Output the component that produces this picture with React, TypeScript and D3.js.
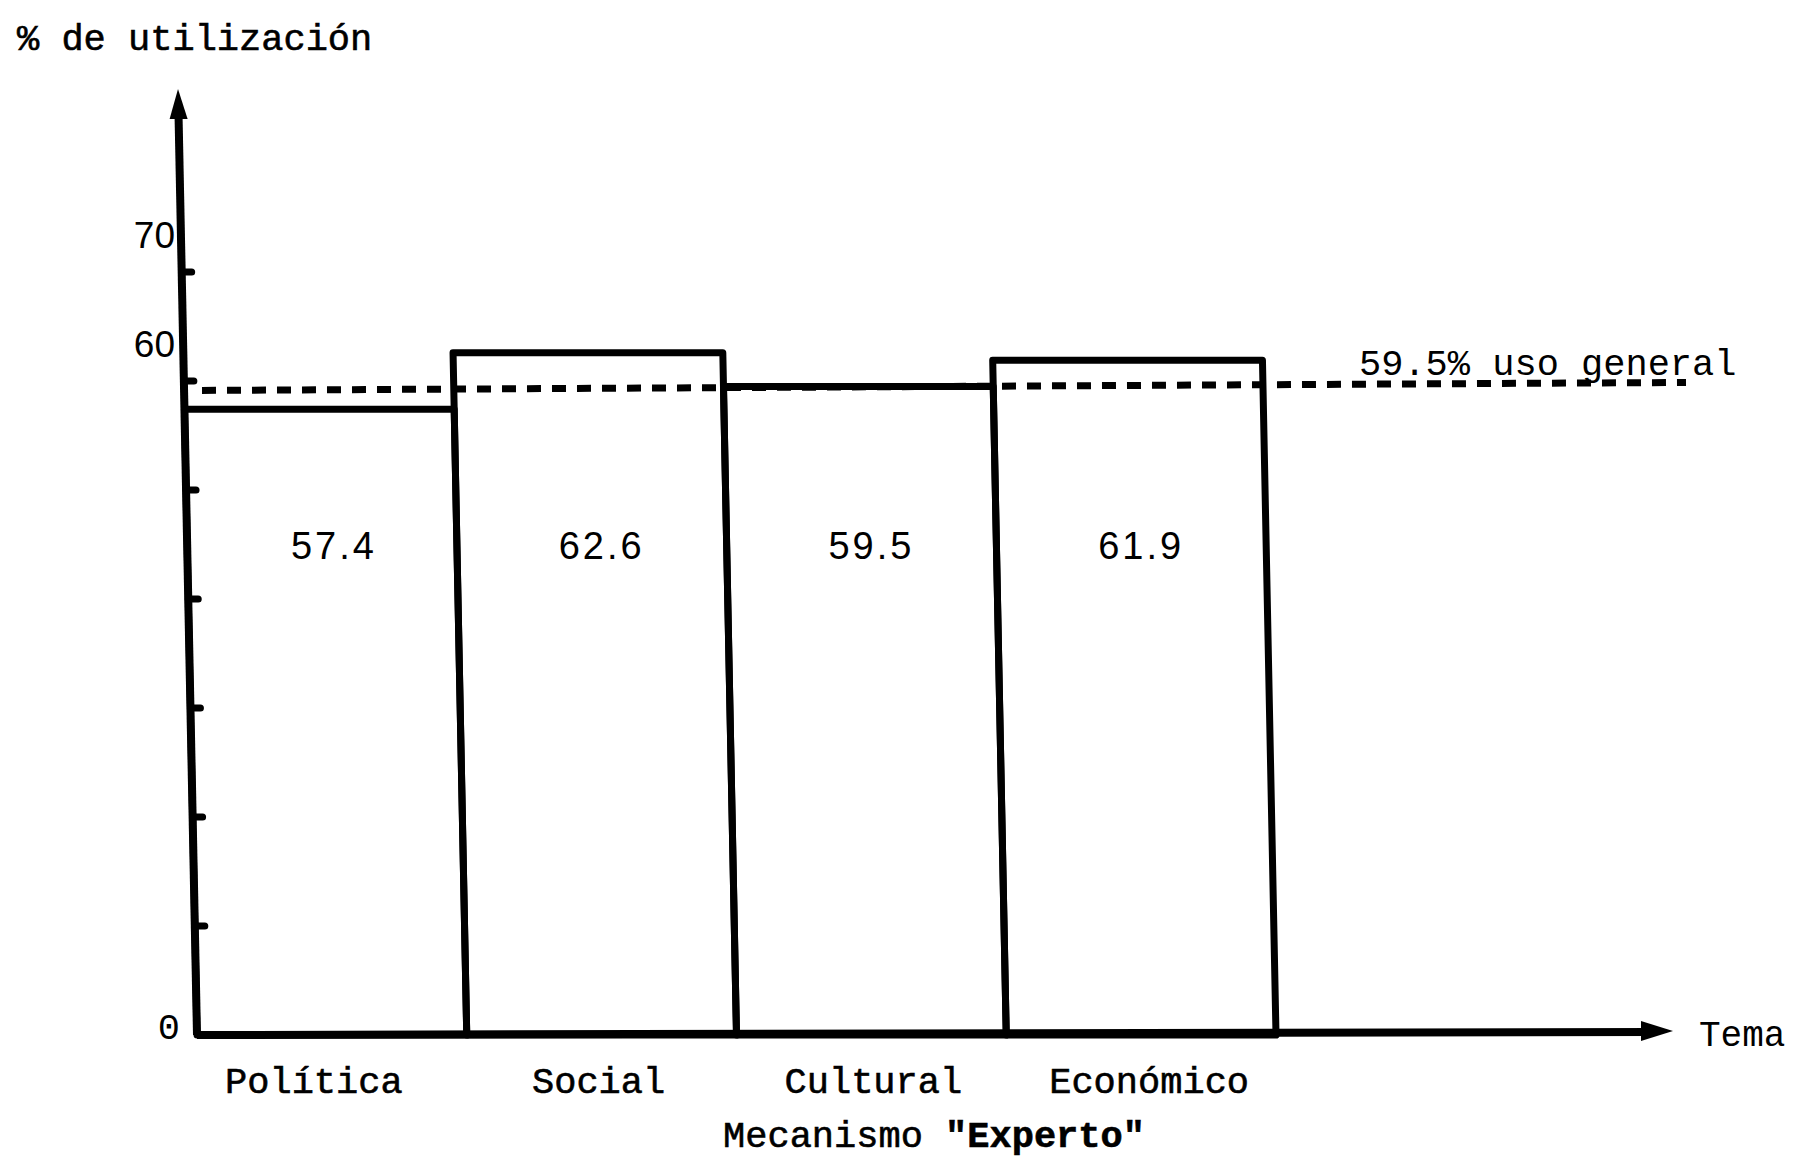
import React from "react";
import * as d3 from "d3";

const categories = ["Política", "Social", "Cultural", "Económico"];
const values = [57.4, 62.6, 59.5, 61.9];
const valueLabels = ["57.4", "62.6", "59.5", "61.9"];
const generalUse = 59.5;
const generalUseLabel = "59.5% uso general";
const minorTicks = [10, 20, 30, 40, 50, 60, 70];
const labeledTicks = [0, 60, 70];
const yTitle = "% de utilización";
const xTitle = "Tema";
const xSubtitleA = "Mecanismo ";
const xSubtitleB = "\"Experto\"";

const W = 1794;
const H = 1160;
const baseY = 1035;
const axisX = 197;
const mono = "'Liberation Mono', 'DejaVu Sans Mono', monospace";
const sans = "'Liberation Sans', Arial, sans-serif";

export default function App() {
  const y = d3.scaleLinear().domain([0, 70]).range([baseY, 272]);
  const x = d3.scaleBand<string>().domain(categories).range([axisX, 1276]).padding(0);
  const skew = `translate(0,${baseY}) skewX(1.15) translate(0,${-baseY})`;
  const xAxisEnd = 1673;
  const yAxisTop = 89;
  const ink = { stroke: "#000", strokeWidth: 0.6 };

  return (
    <svg width={W} height={H} style={{ position: "absolute", left: 0, top: 0, background: "#fff" }}>
      <rect x={0} y={0} width={W} height={H} fill="#fff" />
      {/* title */}
      <text x={17} y={50} fontFamily={mono} fontSize={37} fill="#000" {...ink}>{yTitle}</text>

      <g transform={skew}>
        {/* bars */}
        {categories.map((c, i) => (
          <rect key={c} x={x(c)!} y={y(values[i])} width={x.bandwidth()} height={baseY - y(values[i])}
            fill="none" stroke="#000" strokeWidth={7} strokeLinejoin="round" />
        ))}
        {/* y axis */}
        <line x1={axisX} y1={baseY} x2={axisX} y2={yAxisTop + 20} stroke="#000" strokeWidth={8} />
        <path d={`M${axisX},${yAxisTop} L${axisX - 9},${yAxisTop + 30} L${axisX + 9},${yAxisTop + 30} Z`} fill="#000" />
        {minorTicks.map((t) => (
          <line key={t} x1={axisX} x2={axisX + 10} y1={y(t)} y2={y(t)} stroke="#000" strokeWidth={7} strokeLinecap="round" />
        ))}
      </g>

      {/* x axis */}
      <line x1={axisX} y1={baseY} x2={xAxisEnd - 20} y2={baseY - 3} stroke="#000" strokeWidth={8} />
      <path d={`M${xAxisEnd},${baseY - 4} L${xAxisEnd - 32},${baseY - 14} L${xAxisEnd - 32},${baseY + 6} Z`} fill="#000" />

      {/* general use dashed line */}
      <line x1={axisX + 5} x2={1686} y1={y(generalUse) + 4} y2={y(generalUse) - 4}
        stroke="#000" strokeWidth={7} strokeDasharray="14 11" />
      <text x={1359} y={362} dy="0.35em" fontFamily={mono} fontSize={37} fill="#000">{generalUseLabel}</text>

      {/* value labels */}
      {categories.map((c, i) => (
        <text key={c} x={x(c)! + x.bandwidth() / 2 + (i === 0 ? 2 : 0)} y={546} dy="0.35em" textAnchor="middle"
          fontFamily={sans} fontSize={38} letterSpacing={3} fill="#000">{valueLabels[i]}</text>
      ))}

      {/* y tick labels */}
      {labeledTicks.map((t) => (
        <text key={t} x={t === 0 ? 180 : 175} y={t === 0 ? y(t) - 9 : y(t) - 37} dy="0.35em" textAnchor="end"
          fontFamily={t === 0 ? mono : sans} fontSize={37} fill="#000">{t}</text>
      ))}

      {/* category labels */}
      {categories.map((c, i) => (
        <text key={c} x={x(c)! + x.bandwidth() / 2 + [-18, -3, 2, 8][i]} y={1080} dy="0.35em" textAnchor="middle"
          fontFamily={mono} fontSize={37} fill="#000" {...ink}>{c}</text>
      ))}

      <text x={1699} y={1033} dy="0.35em" fontFamily={mono} fontSize={36} fill="#000">{xTitle}</text>
      <text x={934} y={1134} dy="0.35em" textAnchor="middle" fontFamily={mono} fontSize={37} fill="#000" {...ink}>
        {xSubtitleA}<tspan fontWeight="bold">{xSubtitleB}</tspan>
      </text>
    </svg>
  );
}
